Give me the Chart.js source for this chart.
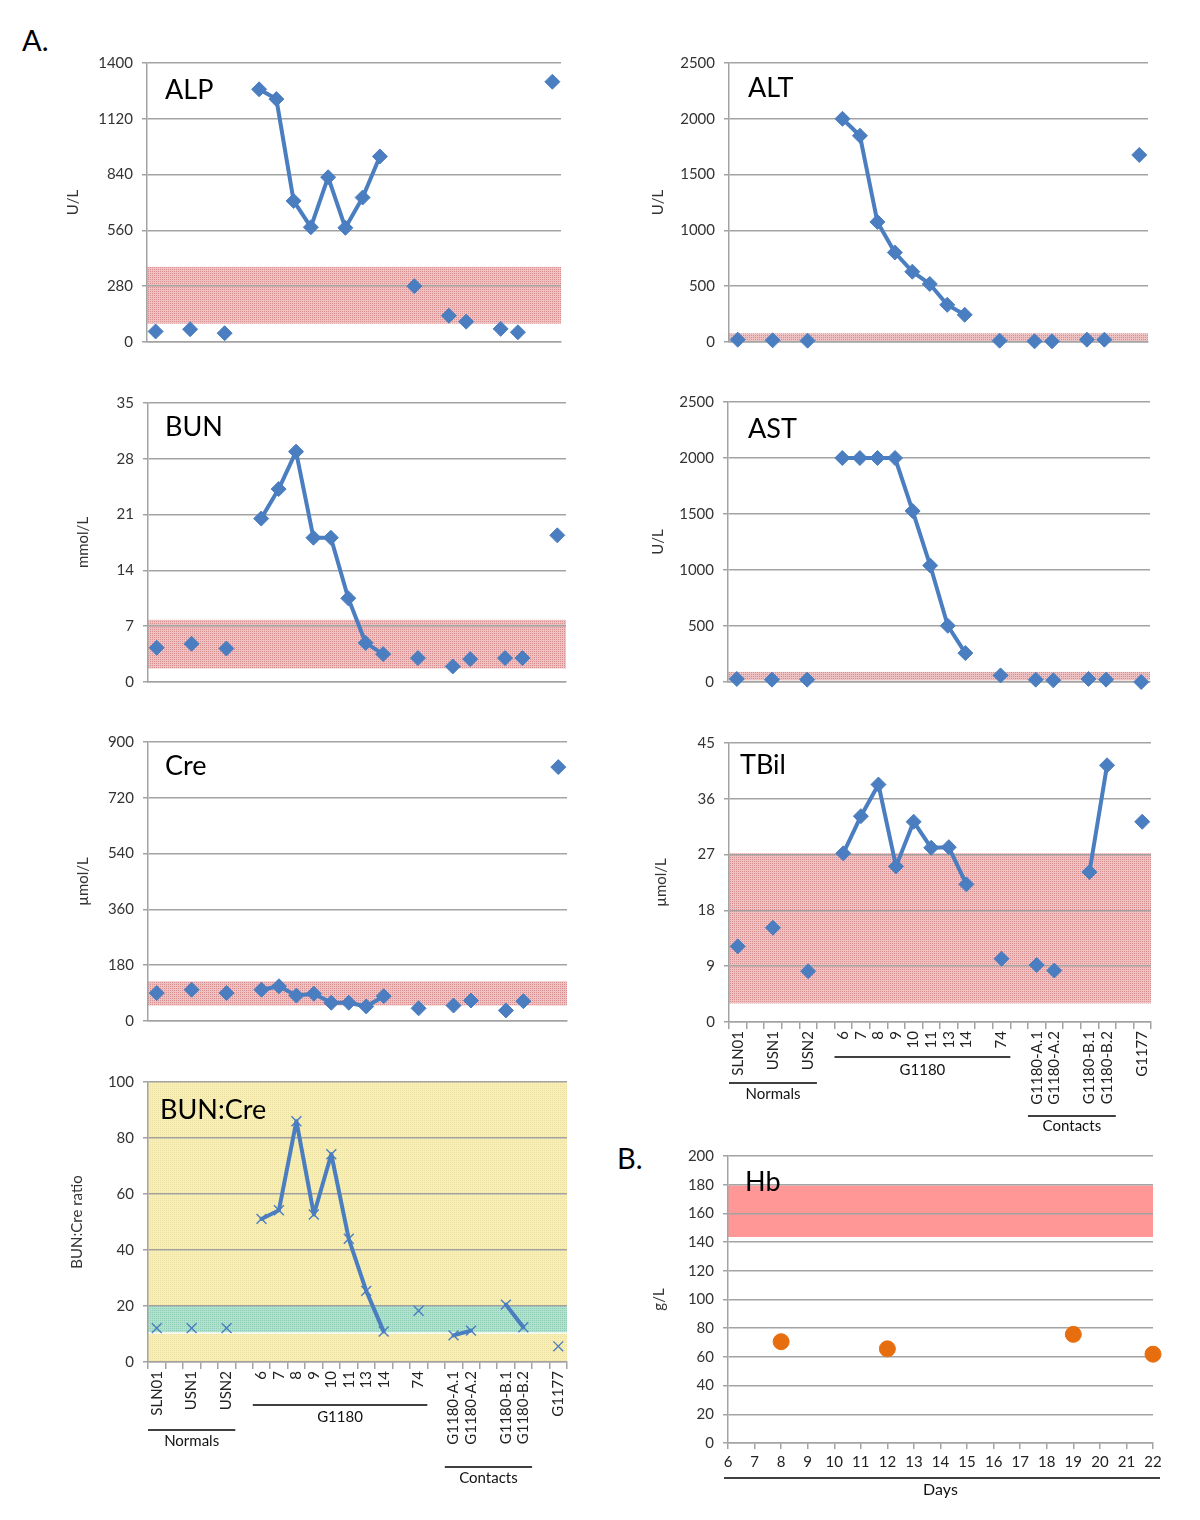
<!DOCTYPE html>
<html>
<head>
<meta charset="utf-8">
<script src="https://cdn.jsdelivr.net/npm/chart.js@4.4.1/dist/chart.umd.min.js"></script>
<style>
  body { margin:0; background:#fff; width:1200px; height:1520px; position:relative; overflow:hidden; font-family: Lato, "Open Sans", sans-serif; }
  canvas { position:absolute; }
  .lbl { position:absolute; font-size:29px; color:#000; font-family: Lato, sans-serif; }
</style>
</head>
<body>
<div class="lbl" style="left:22px;top:22px">A.</div>
<div class="lbl" style="left:617px;top:1140px">B.</div>
<script>
// ---------------- DATA ----------------
const categories = ['SLN01','','USN1','','USN2','','6','7','8','9','10','11','13','14','','74','','G1180-A.1','G1180-A.2','','G1180-B.1','G1180-B.2','','G1177'];

const alpValues   = [53,null,64,null,44,null,1268,1219,708,576,827,573,725,931,null,280,null,132,102,null,66,49,null,1306];
const altValues   = [21,null,15,null,12,null,2000,1848,1076,802,630,520,333,244,null,12,null,6,6,null,21,21,null,1676];
const bunValues   = [4.3,null,4.8,null,4.2,null,20.5,24.2,28.9,18.1,18.1,10.5,4.9,3.5,null,3.0,null,1.95,2.87,null,3.0,3.0,null,18.4];
const astValues   = [27,null,21,null,21,null,2000,2000,2000,2000,1527,1040,502,258,null,59,null,21,15,null,27,21,null,0];
const creValues   = [90,null,101,null,90,null,101,112,82,88,59,59,47,80,null,41,null,50,66,null,34,64,null,819];
const tbilValues  = [12.2,null,15.2,null,8.2,null,27.2,33.2,38.3,25.1,32.3,28.1,28.2,22.2,null,10.2,null,9.2,8.3,null,24.2,41.4,null,32.3];
const ratioValues = [12.1,null,12.1,null,12.1,null,51.1,54.2,86,52.7,74.2,44,25.4,10.9,null,18.3,null,9.5,11.2,null,20.5,12.4,null,5.6];

// which category slots are joined by a line
const linkG1180 = [6,7,8,9,10,11,12,13];
const linkTbil  = [6,7,8,9,10,11,12,13,20,21];
const linkRatio = [6,7,8,9,10,11,12,13,17,18,20,21];

// reference ranges
const alpRange   = [92, 377];
const altRange   = [3, 78];
const bunRange   = [1.7, 7.8];
const astRange   = [15, 90];
const creRange   = [50, 128];
const tbilRange  = [3, 27.2];
const ratioRange = [10.4, 20];
const hbRange    = [143, 180];

// y-axis scales [max, step]
const alpAxis = [1400, 280], altAxis = [2500, 500], bunAxis = [35, 7], astAxis = [2500, 500];
const creAxis = [900, 180], tbilAxis = [45, 9], ratioAxis = [100, 20], hbAxis = [200, 20];

// Hb
const hbDays   = [8, 12, 19, 22];
const hbValues = [70.6, 65.6, 75.7, 61.9];
const hbDayRange = [6, 22];

// group labels under category axis
const groupDefs = [
  {from: 0, to: 4, text: 'Normals', key: 'normals'},
  {from: 6, to: 15, text: 'G1180', key: 'g1180'},
  {from: 17, to: 21, text: 'Contacts', key: 'contacts'}
];

// ---------------- STYLE ----------------
const BLUE = 'rgb(74,126,192)';
const GRID = '#a3a3a3';
const FONT = 'Lato, "Open Sans", sans-serif';

function dotPattern(base, dot) {
  const c = document.createElement('canvas');
  c.width = 2; c.height = 2;
  const x = c.getContext('2d');
  x.fillStyle = base; x.fillRect(0, 0, 2, 2);
  x.fillStyle = dot; x.fillRect(0, 0, 1, 1);
  return x.createPattern(c, 'repeat');
}
const PINK = dotPattern('rgb(238,194,194)', 'rgb(214,142,142)');
const GREEN = dotPattern('rgb(176,226,206)', 'rgb(142,204,182)');
const YELLOW = dotPattern('rgb(248,239,182)', 'rgb(236,224,162)');

// ---------------- PLUGINS ----------------
const bandsPlugin = {
  id: 'bands',
  beforeDraw(chart, args, opts) {
    if (!opts || !opts.list) return;
    const {ctx, chartArea: a} = chart;
    const y = chart.scales.y;
    ctx.save();
    opts.list.forEach(b => {
      const y1 = y.getPixelForValue(b.to), y2 = y.getPixelForValue(b.from);
      ctx.fillStyle = b.color;
      ctx.fillRect(a.left, y1, a.right - a.left, y2 - y1);
      if (b.bottomLine) {
        ctx.strokeStyle = b.bottomLine; ctx.lineWidth = 1.5;
        ctx.beginPath(); ctx.moveTo(a.left, y2); ctx.lineTo(a.right, y2); ctx.stroke();
      }
      if (b.edgeLine) {
        ctx.strokeStyle = b.edgeLine; ctx.lineWidth = 1.5;
        ctx.beginPath(); ctx.moveTo(a.left, y1); ctx.lineTo(a.right, y1);
        ctx.moveTo(a.left, y2); ctx.lineTo(a.right, y2); ctx.stroke();
      }
    });
    ctx.restore();
  }
};

const decorPlugin = {
  id: 'decor',
  afterDraw(chart, args, opts) {
    if (!opts) return;
    const {ctx, chartArea: a} = chart;
    ctx.save();
    if (opts.title) {
      ctx.font = '27px ' + FONT;
      ctx.fillStyle = '#000';
      ctx.textBaseline = 'middle';
      ctx.textAlign = 'left';
      ctx.fillText(opts.title, a.left + opts.titleDx, a.top + opts.titleDy);
    }
    if (opts.groups) {
      const x = chart.scales.x;
      const half = (x.getPixelForValue(1) - x.getPixelForValue(0)) / 2;
      ctx.strokeStyle = '#000'; ctx.lineWidth = 1.5;
      ctx.fillStyle = '#111'; ctx.font = '15px ' + FONT;
      ctx.textAlign = 'center'; ctx.textBaseline = 'middle';
      opts.groups.forEach(g => {
        const pos = opts.groupPos[g.key];
        const x1 = x.getPixelForValue(g.from) - half, x2 = x.getPixelForValue(g.to) + half;
        ctx.beginPath(); ctx.moveTo(x1, a.bottom + pos[0]); ctx.lineTo(x2, a.bottom + pos[0]); ctx.stroke();
        ctx.fillText(g.text, (x1 + x2) / 2, a.bottom + pos[1]);
      });
    }
    if (opts.axisLabel) {
      const l = opts.axisLabel;
      ctx.strokeStyle = '#000'; ctx.lineWidth = 1.5;
      ctx.beginPath(); ctx.moveTo(a.left + l.x1, a.bottom + l.lineDy); ctx.lineTo(a.right + l.x2, a.bottom + l.lineDy); ctx.stroke();
      ctx.fillStyle = '#111'; ctx.font = '16px ' + FONT;
      ctx.textAlign = 'center'; ctx.textBaseline = 'middle';
      ctx.fillText(l.text, (a.left + a.right) / 2, a.bottom + l.textDy);
    }
    ctx.restore();
  }
};

// ---------------- BUILDERS ----------------
function makeCanvas(cfg) {
  const padTop = cfg.padTop ?? 16, padRight = cfg.padRight ?? 14, padBottom = cfg.padBottom ?? 4;
  const left = cfg.area.l - cfg.yW;
  const top = cfg.area.t - padTop;
  const width = cfg.area.r + padRight - left;
  const height = cfg.area.b + cfg.xH + padBottom - top;
  const cv = document.createElement('canvas');
  cv.width = width; cv.height = height;
  cv.style.left = left + 'px'; cv.style.top = top + 'px';
  cv.style.width = width + 'px'; cv.style.height = height + 'px';
  document.body.appendChild(cv);
  return {cv, padTop, padRight, padBottom};
}

function yScale(cfg, axis) {
  return {
    min: 0, max: axis[0],
    afterFit: s => { s.width = cfg.yW; },
    ticks: { stepSize: axis[1], color: '#333', font: {family: FONT, size: cfg.yFont || 15}, padding: 9,
             callback: v => String(v) },
    grid: { color: GRID, lineWidth: 1.5, tickLength: 5 },
    border: { color: GRID, width: 1.5 },
    title: { display: true, text: cfg.yTitle, color: '#333', font: {family: FONT, size: 15}, padding: {top: 0, bottom: 0} }
  };
}

function makePanel(cfg) {
  const {cv, padTop, padRight, padBottom} = makeCanvas(cfg);
  const lineData = cfg.values.map((v, i) => cfg.links.includes(i) ? v : null);
  const labeled = !!cfg.showLabels;
  new Chart(cv.getContext('2d'), {
    type: 'line',
    data: {
      labels: categories,
      datasets: [
        { data: cfg.values, showLine: false, pointStyle: cfg.marker || 'rectRot',
          pointRadius: cfg.markerRadius || 7.5, pointBackgroundColor: BLUE, pointBorderColor: BLUE,
          pointBorderWidth: cfg.markerBorder || 1, order: 0, clip: false },
        { data: lineData, borderColor: BLUE, borderWidth: 4, pointRadius: 0, spanGaps: false,
          tension: 0, order: 1, clip: false, borderJoinStyle: 'round', borderCapStyle: 'round' }
      ]
    },
    options: {
      responsive: false, animation: false, devicePixelRatio: 1,
      layout: { padding: {top: padTop, right: padRight, bottom: padBottom, left: 0} },
      plugins: {
        legend: {display: false}, tooltip: {enabled: false},
        bands: { list: cfg.bands },
        decor: { title: cfg.title, titleDx: cfg.titleDx, titleDy: cfg.titleDy,
                 groups: labeled ? groupDefs : null, groupPos: cfg.groupPos }
      },
      scales: {
        x: {
          offset: true,
          afterFit: s => { s.height = cfg.xH; },
          ticks: { display: labeled, autoSkip: false, maxRotation: 90, minRotation: 90,
                   color: '#222', font: {family: FONT, size: 15}, padding: 2 },
          grid: { display: true, offset: true, drawOnChartArea: false, drawTicks: labeled,
                  tickLength: 7, color: GRID, lineWidth: 1.5 },
          border: { color: GRID, width: 1.5 }
        },
        y: yScale(cfg, cfg.axis)
      }
    },
    plugins: [bandsPlugin, decorPlugin]
  });
}

// ---------------- PANELS ----------------
makePanel({ area: {l:147, r:561, t:61, b:342}, yW: 83, xH: 16, yTitle: 'U/L', axis: alpAxis,
  values: alpValues, links: linkG1180, bands: [{from: alpRange[0], to: alpRange[1], color: PINK}],
  title: 'ALP', titleDx: 18, titleDy: 27 });

makePanel({ area: {l:729, r:1148, t:61, b:342}, yW: 80, xH: 16, yTitle: 'U/L', axis: altAxis,
  values: altValues, links: linkG1180, bands: [{from: altRange[0], to: altRange[1], color: PINK}],
  title: 'ALT', titleDx: 19, titleDy: 25 });

makePanel({ area: {l:148, r:566, t:401, b:682}, yW: 74, xH: 16, yTitle: 'mmol/L', axis: bunAxis,
  values: bunValues, links: linkG1180, bands: [{from: bunRange[0], to: bunRange[1], color: PINK}],
  title: 'BUN', titleDx: 17, titleDy: 24 });

makePanel({ area: {l:728, r:1150, t:400, b:682}, yW: 79, xH: 16, yTitle: 'U/L', axis: astAxis,
  values: astValues, links: linkG1180, bands: [{from: astRange[0], to: astRange[1], color: PINK}],
  title: 'AST', titleDx: 20, titleDy: 27 });

makePanel({ area: {l:148, r:567, t:740, b:1021}, yW: 74, xH: 16, yTitle: 'µmol/L', axis: creAxis,
  values: creValues, links: linkG1180, bands: [{from: creRange[0], to: creRange[1], color: PINK}],
  title: 'Cre', titleDx: 17, titleDy: 24 });

makePanel({ area: {l:729, r:1151, t:741, b:1022}, yW: 77, xH: 92, padBottom: 26, yTitle: 'µmol/L', axis: tbilAxis,
  values: tbilValues, links: linkTbil, bands: [{from: tbilRange[0], to: tbilRange[1], color: PINK}],
  title: 'TBil', titleDx: 11, titleDy: 22, showLabels: true,
  groupPos: { g1180: [35, 48], normals: [61, 72], contacts: [94, 104] } });

makePanel({ area: {l:148, r:567, t:1080, b:1362}, yW: 80, xH: 100, padBottom: 28, yTitle: 'BUN:Cre ratio', axis: ratioAxis,
  values: ratioValues, links: linkRatio, marker: 'crossRot', markerRadius: 7, markerBorder: 1.4,
  bands: [{from: 0, to: 100, color: YELLOW}, {from: ratioRange[0], to: ratioRange[1], color: GREEN, bottomLine: '#ffffff'}],
  title: 'BUN:Cre', titleDx: 12, titleDy: 28, showLabels: true,
  groupPos: { g1180: [43, 55], normals: [68, 79], contacts: [105, 116] } });

// Hb panel
(function () {
  const cfg = { area: {l:728, r:1153, t:1154, b:1443}, yW: 78, xH: 30, padBottom: 30, padRight: 14 };
  const {cv, padTop, padRight, padBottom} = makeCanvas(cfg);
  new Chart(cv.getContext('2d'), {
    type: 'scatter',
    data: { datasets: [{
      data: hbDays.map((d, i) => ({x: d, y: hbValues[i]})),
      pointStyle: 'circle', pointRadius: 8, pointBackgroundColor: 'rgb(230,110,14)',
      pointBorderColor: 'rgb(230,110,14)', pointBorderWidth: 1, clip: false
    }]},
    options: {
      responsive: false, animation: false, devicePixelRatio: 1,
      layout: { padding: {top: padTop, right: padRight, bottom: padBottom, left: 0} },
      plugins: {
        legend: {display: false}, tooltip: {enabled: false},
        bands: { list: [{from: hbRange[0], to: hbRange[1], color: 'rgb(255,151,151)', edgeLine: '#ffffff'}] },
        decor: { title: 'Hb', titleDx: 17, titleDy: 26,
                 axisLabel: { text: 'Days', lineDy: 35, textDy: 47, x1: -4, x2: 7 } }
      },
      scales: {
        x: {
          type: 'linear', min: hbDayRange[0], max: hbDayRange[1],
          afterFit: s => { s.height = cfg.xH; },
          ticks: { stepSize: 1, color: '#222', font: {family: FONT, size: 15}, padding: 4, maxRotation: 0, autoSkip: false },
          grid: { drawOnChartArea: false, tickLength: 6, color: GRID, lineWidth: 1.5 },
          border: { color: GRID, width: 1.5 }
        },
        y: yScale({yW: cfg.yW, yTitle: 'g/L', yFont: 15}, hbAxis)
      }
    },
    plugins: [bandsPlugin, decorPlugin]
  });
})();
</script>
</body>
</html>
